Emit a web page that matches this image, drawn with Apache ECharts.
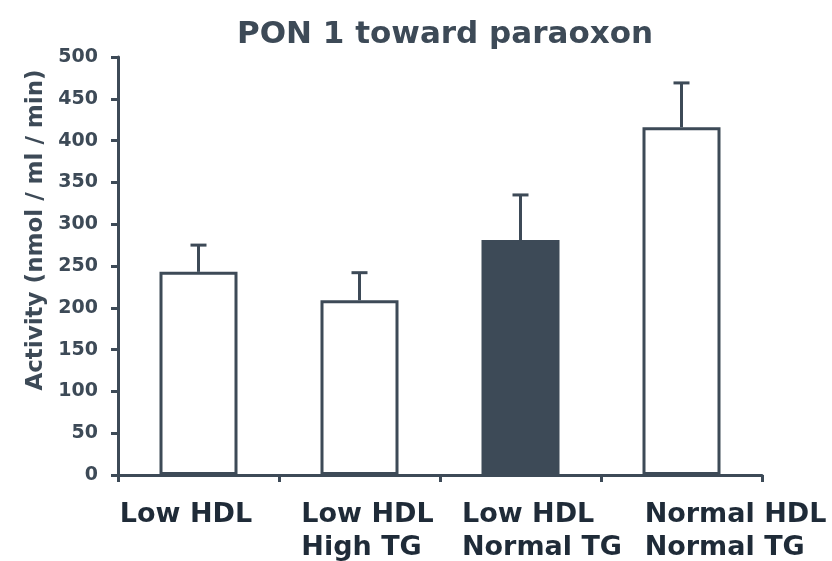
<!DOCTYPE html>
<html>
<head>
<meta charset="utf-8">
<script src="https://cdn.jsdelivr.net/npm/echarts@6/dist/echarts.min.js"></script>
<style>
html,body{margin:0;padding:0;background:#fff;}
#main{width:832px;height:561px;}
</style>
</head>
<body>
<div id="main"></div>
<script>
const categories = ['Low HDL', 'Low HDL\nHigh TG', 'Low HDL\nNormal TG', 'Normal HDL\nNormal TG'];
const meanValues = [243, 209, 281, 416];
const errorValues = [32, 33, 54, 53];
const filledFlags = [false, false, true, false];
const yTicks = [0, 50, 100, 150, 200, 250, 300, 350, 400, 450, 500];

const INK = '#3d4a57';
const chart = echarts.init(document.getElementById('main'), null, {renderer: 'canvas'});

const labelPads = [[0, 25, 0, 0], [0, 0, 0, 16], [0, 0, 0, 43], [0, 0, 0, 108]];
const rich = {};
labelPads.forEach((p, i) => {
  rich['c' + i] = {
    align: 'left', padding: p, fontFamily: 'DejaVu Sans', fontWeight: 'bold',
    fontSize: 27, lineHeight: 33, color: '#1f2b38'
  };
});

chart.setOption({
  animation: false,
  backgroundColor: '#ffffff',
  title: {
    text: 'PON 1 toward paraoxon',
    left: 440, top: 14, textAlign: 'center',
    textStyle: {fontFamily: 'DejaVu Sans', fontWeight: 'bold', fontSize: 31, color: INK}
  },
  grid: {left: 118, right: 70, top: 57, bottom: 86},
  xAxis: {
    type: 'category',
    data: categories,
    axisLine: {lineStyle: {color: INK, width: 3}},
    axisTick: {show: true, length: 7, lineStyle: {color: INK, width: 3}},
    axisLabel: {
      margin: 23,
      interval: 0,
      formatter: (v, i) => v.split('\n').map(s => '{c' + i + '|' + s + '}').join('\n'),
      rich: rich
    }
  },
  yAxis: {
    type: 'value',
    min: yTicks[0], max: yTicks[yTicks.length - 1], interval: 50,
    name: 'Activity (nmol / ml / min)',
    nameLocation: 'middle',
    nameRotate: 90,
    nameGap: 70,
    nameTextStyle: {fontFamily: 'DejaVu Sans', fontWeight: 'bold', fontSize: 23, color: INK, padding: [0, 0, 0, 72]},
    splitLine: {show: false},
    axisLine: {show: true, lineStyle: {color: INK, width: 3}},
    axisTick: {show: true, length: 7, lineStyle: {color: INK, width: 3}},
    axisLabel: {margin: 20, fontFamily: 'DejaVu Sans', fontWeight: 'bold', fontSize: 19, color: INK}
  },
  series: [
    {
      type: 'bar',
      barWidth: 78,
      data: meanValues.map((v, i) => ({
        value: v,
        itemStyle: {color: filledFlags[i] ? INK : '#ffffff', borderColor: INK, borderWidth: 3}
      })),
      z: 2
    },
    {
      type: 'custom',
      z: 3,
      data: meanValues.map((v, i) => [i, v, v + errorValues[i]]),
      renderItem: function (params, api) {
        const base = api.coord([api.value(0), api.value(1)]);
        const top = api.coord([api.value(0), api.value(2)]);
        const hw = 8;
        const st = {stroke: INK, lineWidth: 3};
        return {
          type: 'group',
          children: [
            {type: 'line', shape: {x1: base[0], y1: base[1], x2: top[0], y2: top[1]}, style: st},
            {type: 'line', shape: {x1: top[0] - hw, y1: top[1], x2: top[0] + hw, y2: top[1]}, style: st}
          ]
        };
      }
    }
  ]
});
</script>
</body>
</html>
